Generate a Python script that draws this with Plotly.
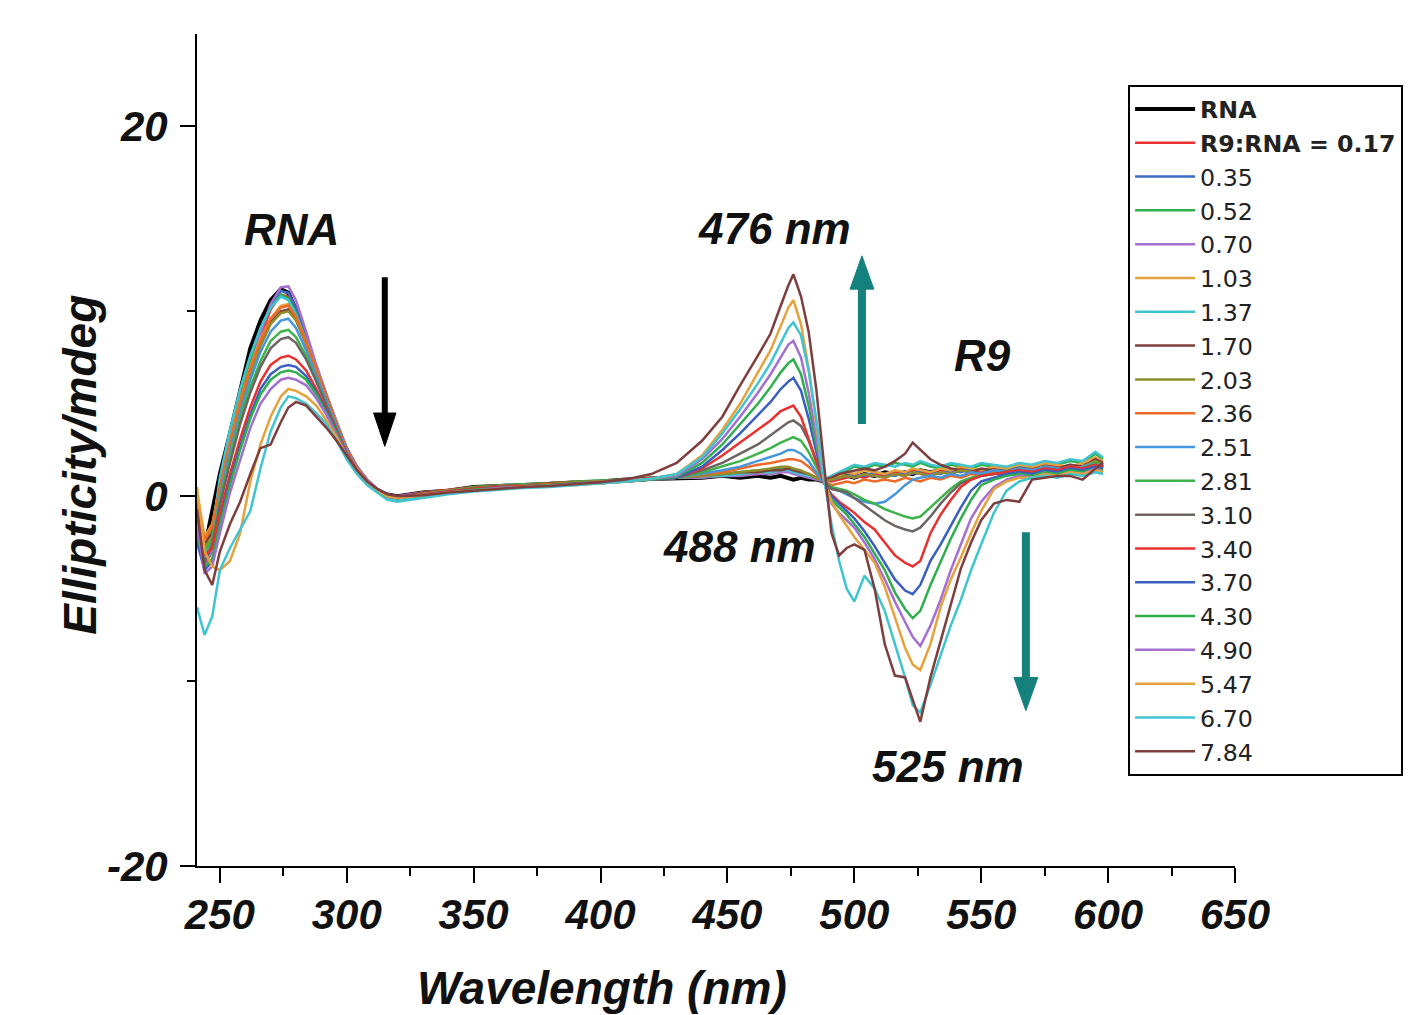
import plotly.graph_objects as go

FONT = "Arial, Liberation Sans, sans-serif"

# ---------------- data ----------------
wavelength = [241, 244, 247, 250, 254, 258, 262, 266, 270, 274, 277, 280, 284, 288, 292, 296, 300, 304, 308, 312, 316, 320,
              330, 340, 350, 360, 370, 380, 390, 400, 410, 420, 430,
              440, 448, 455, 462, 467, 471, 474, 476, 479, 482, 485, 488, 491, 494, 497, 500, 504, 508, 512, 516,
              520, 523, 526, 530, 534, 538, 542, 546, 550, 555, 560, 565, 570, 575, 580, 585, 590, 595, 598]

series_names = ["<b>RNA</b>", "<b>R9:RNA = 0.17</b>", "0.35", "0.52", "0.70", "1.03", "1.37", "1.70", "2.03", "2.36",
                "2.51", "2.81", "3.10", "3.40", "3.70", "4.30", "4.90", "5.47", "6.70", "7.84"]

series_colors = ["#000000", "#E8302E", "#3B6BC4", "#2DAF4C", "#A36FD0", "#E5A23C", "#40C4D0", "#7E3E3E", "#8F8F2A",
                 "#EE6A26", "#4596DD", "#3DB34A", "#6E6464", "#E8302E", "#3A5FC0", "#2DAF4C", "#A36FD0", "#E5A23C",
                 "#40C4D0", "#7E3E3E"]

rna = [-1.5, -2.8, -0.8, 1.2, 3.4, 5.8, 8.0, 9.5, 10.6, 11.2, 11.0, 10.1, 8.5, 6.8, 5.3, 3.8, 2.5, 1.5, 0.8, 0.3, 0.1, 0.0,
       0.2, 0.3, 0.5, 0.55, 0.6, 0.7, 0.75, 0.8, 0.9, 0.95, 1.0,
       1.0, 1.1, 1.0, 1.1, 1.0, 1.1, 1.0, 0.9, 1.0, 0.9, 0.9, 0.8, 0.9, 1.0, 1.1, 1.0, 1.2, 1.1, 1.3, 1.2,
       1.3, 1.2, 1.4, 1.3, 1.4, 1.3, 1.5, 1.4, 1.2, 1.3, 1.2, 1.3, 1.4, 1.5, 1.3, 1.5, 1.4, 1.6, 1.5]
r017 = [-0.5, -3.5, -2.8, 0.0, 2.5, 4.8, 6.9, 8.6, 10.1, 10.9, 10.8, 10.0, 8.5, 6.9, 5.4, 3.9, 2.6, 1.6, 0.9, 0.4, 0.1, 0.0,
        0.2, 0.35, 0.5, 0.6, 0.6, 0.7, 0.8, 0.8, 0.9, 1.0, 1.0,
        1.1, 1.1, 1.2, 1.2, 1.3, 1.3, 1.4, 1.3, 1.2, 1.1, 1.0, 0.9, 0.8, 0.9, 1.0, 1.1, 1.0, 1.2, 1.1, 1.3,
        1.2, 1.4, 1.3, 1.2, 1.4, 1.3, 1.5, 1.4, 1.3, 1.5, 1.4, 1.6, 1.5, 1.7, 1.6, 1.5, 1.8, 1.7, 1.6]
r035 = [-1.2, -3.0, -2.2, 0.5, 3.0, 5.2, 7.2, 8.9, 10.3, 11.1, 11.0, 10.2, 8.6, 7.0, 5.5, 4.0, 2.6, 1.6, 0.9, 0.4, 0.1, -0.1,
        0.1, 0.3, 0.45, 0.55, 0.6, 0.65, 0.75, 0.8, 0.85, 0.95, 1.05,
        1.1, 1.2, 1.2, 1.3, 1.3, 1.4, 1.4, 1.3, 1.2, 1.1, 1.0, 0.8, 0.9, 1.0, 1.1, 1.2, 1.1, 1.3, 1.2, 1.1,
        1.3, 1.2, 1.4, 1.3, 1.2, 1.4, 1.3, 1.5, 1.4, 1.3, 1.5, 1.6, 1.4, 1.6, 1.5, 1.7, 1.6, 1.9, 1.7]
r052 = [-0.8, -2.6, -1.8, 0.8, 3.4, 5.6, 7.4, 9.0, 10.2, 10.9, 10.7, 9.9, 8.4, 6.8, 5.3, 3.9, 2.5, 1.5, 0.8, 0.3, 0.0, -0.1,
        0.2, 0.3, 0.5, 0.6, 0.65, 0.7, 0.8, 0.85, 0.9, 1.0, 1.1,
        1.2, 1.2, 1.3, 1.4, 1.4, 1.5, 1.5, 1.4, 1.3, 1.2, 1.0, 0.9, 1.0, 1.2, 1.4, 1.6, 1.5, 1.7, 1.6, 1.8,
        1.7, 1.6, 1.8, 1.6, 1.5, 1.7, 1.6, 1.5, 1.7, 1.6, 1.5, 1.7, 1.6, 1.8, 1.7, 1.9, 1.8, 2.3, 2.0]
r070 = [-1.5, -3.8, -3.0, -0.5, 2.2, 4.6, 6.8, 8.8, 10.4, 11.3, 11.35, 10.6, 8.9, 7.1, 5.5, 4.0, 2.6, 1.6, 0.9, 0.4, 0.1, 0.0,
        0.2, 0.3, 0.4, 0.55, 0.6, 0.65, 0.7, 0.8, 0.85, 0.95, 1.0,
        1.0, 1.1, 1.1, 1.2, 1.2, 1.3, 1.3, 1.2, 1.1, 1.0, 0.9, 0.8, 0.9, 1.0, 1.1, 1.0, 1.2, 1.1, 1.0, 1.2,
        1.1, 1.3, 1.2, 1.1, 1.3, 1.2, 1.4, 1.3, 1.2, 1.4, 1.3, 1.5, 1.4, 1.6, 1.5, 1.4, 1.6, 1.8, 1.6]
r103 = [0.3, -2.2, -1.5, 0.6, 3.0, 5.2, 7.0, 8.5, 9.6, 10.3, 10.4, 9.8, 8.4, 6.9, 5.4, 3.9, 2.5, 1.5, 0.8, 0.3, 0.0, -0.1,
        0.15, 0.3, 0.45, 0.55, 0.6, 0.7, 0.75, 0.8, 0.9, 0.95, 1.05,
        1.1, 1.2, 1.2, 1.3, 1.3, 1.4, 1.5, 1.4, 1.3, 1.2, 1.0, 0.9, 1.0, 1.1, 1.3, 1.2, 1.4, 1.3, 1.2, 1.4,
        1.3, 1.5, 1.4, 1.3, 1.5, 1.4, 1.6, 1.5, 1.4, 1.6, 1.5, 1.7, 1.6, 1.8, 1.7, 1.6, 1.8, 2.1, 1.9]
r137 = [-2.0, -3.2, -2.0, 1.0, 3.6, 5.8, 7.6, 9.1, 10.2, 10.8, 10.6, 9.8, 8.3, 6.8, 5.3, 3.8, 2.5, 1.5, 0.8, 0.3, -0.1, -0.2,
        0.0, 0.2, 0.4, 0.5, 0.6, 0.65, 0.7, 0.8, 0.85, 0.95, 1.0,
        1.1, 1.1, 1.2, 1.3, 1.3, 1.4, 1.4, 1.3, 1.2, 1.1, 1.0, 0.9, 1.1, 1.3, 1.5, 1.7, 1.6, 1.8, 1.7, 1.6,
        1.8, 1.7, 1.9, 1.7, 1.6, 1.8, 1.7, 1.6, 1.8, 1.7, 1.6, 1.8, 1.7, 1.9, 1.8, 2.0, 1.9, 2.4, 2.1]
r170 = [-0.5, -2.5, -2.0, 0.4, 2.8, 5.0, 6.8, 8.3, 9.4, 10.0, 10.1, 9.6, 8.3, 6.8, 5.3, 3.9, 2.5, 1.5, 0.8, 0.3, 0.0, -0.1,
        0.2, 0.3, 0.45, 0.55, 0.6, 0.7, 0.75, 0.8, 0.9, 1.0, 1.05,
        1.1, 1.2, 1.3, 1.3, 1.4, 1.4, 1.5, 1.4, 1.3, 1.2, 1.0, 0.9, 1.0, 1.2, 1.3, 1.4, 1.5, 1.4, 1.6, 1.9,
        2.3, 2.9, 2.5, 2.0, 1.7, 1.5, 1.4, 1.3, 1.5, 1.4, 1.3, 1.5, 1.4, 1.6, 1.5, 1.7, 1.6, 2.0, 1.8]
r203 = [-1.0, -2.8, -2.2, 0.2, 2.6, 4.8, 6.6, 8.1, 9.3, 9.9, 10.0, 9.5, 8.2, 6.7, 5.2, 3.8, 2.5, 1.5, 0.8, 0.3, 0.0, -0.1,
        0.1, 0.3, 0.45, 0.5, 0.6, 0.65, 0.75, 0.8, 0.85, 0.95, 1.0,
        1.1, 1.2, 1.3, 1.4, 1.5, 1.6, 1.6, 1.5, 1.4, 1.2, 1.0, 0.8, 0.9, 1.0, 1.1, 1.0, 1.2, 1.1, 1.0, 1.2,
        1.1, 1.3, 1.2, 1.1, 1.3, 1.2, 1.4, 1.3, 1.2, 1.4, 1.3, 1.5, 1.4, 1.6, 1.5, 1.4, 1.6, 1.9, 1.7]
r236 = [-0.3, -2.4, -1.6, 0.5, 2.9, 5.1, 6.9, 8.4, 9.6, 10.2, 10.3, 9.7, 8.3, 6.8, 5.3, 3.9, 2.5, 1.5, 0.8, 0.3, 0.0, -0.1,
        0.15, 0.3, 0.4, 0.5, 0.55, 0.65, 0.7, 0.75, 0.85, 0.95, 1.0,
        1.2, 1.3, 1.5, 1.7, 1.8, 1.9, 2.0, 2.0, 1.9, 1.6, 1.2, 0.8, 0.6, 0.7, 0.8, 0.7, 0.9, 0.8, 0.9, 0.8,
        1.0, 0.9, 0.8, 1.0, 0.9, 1.1, 1.0, 1.2, 1.1, 1.3, 1.2, 1.4, 1.3, 1.5, 1.4, 1.6, 1.5, 1.8, 1.6]
r251 = [-1.8, -3.4, -2.5, 0.0, 2.4, 4.5, 6.3, 7.8, 8.9, 9.5, 9.6, 9.1, 7.9, 6.5, 5.1, 3.7, 2.4, 1.4, 0.7, 0.3, 0.0, -0.1,
        0.1, 0.25, 0.4, 0.5, 0.55, 0.6, 0.7, 0.75, 0.85, 0.9, 1.0,
        1.2, 1.4, 1.6, 1.9, 2.1, 2.3, 2.5, 2.5, 2.3, 1.9, 1.3, 0.7, 0.4, 0.3, 0.1, -0.1, -0.3, -0.4, -0.3, 0.1,
        0.6, 0.9, 1.0, 1.1, 1.0, 1.2, 1.1, 1.3, 1.2, 1.4, 1.3, 1.5, 1.4, 1.6, 1.5, 1.4, 1.6, 1.8, 1.6]
r281 = [-1.2, -3.0, -2.4, -0.2, 2.1, 4.2, 5.9, 7.3, 8.4, 8.9, 9.0, 8.6, 7.6, 6.3, 5.0, 3.6, 2.3, 1.4, 0.7, 0.3, 0.0, -0.1,
        0.1, 0.3, 0.4, 0.5, 0.55, 0.6, 0.7, 0.75, 0.8, 0.9, 1.0,
        1.3, 1.6, 1.9, 2.3, 2.6, 2.9, 3.1, 3.2, 3.0, 2.4, 1.6, 0.8, 0.5, 0.4, 0.3, 0.1, -0.2, -0.4, -0.7, -0.9,
        -1.1, -1.2, -1.1, -0.6, -0.1, 0.4, 0.8, 1.0, 1.1, 1.2, 1.3, 1.4, 1.3, 1.5, 1.4, 1.6, 1.5, 1.8, 1.6]
r310 = [-2.2, -3.6, -2.6, -0.5, 1.8, 3.9, 5.6, 7.0, 8.0, 8.5, 8.6, 8.3, 7.4, 6.2, 4.9, 3.6, 2.3, 1.4, 0.7, 0.3, 0.0, -0.1,
        0.1, 0.25, 0.4, 0.5, 0.55, 0.6, 0.7, 0.75, 0.8, 0.9, 1.0,
        1.4, 1.8, 2.3, 2.8, 3.3, 3.7, 4.0, 4.1, 3.8, 3.0, 1.9, 0.8, 0.4, 0.3, 0.2, -0.1, -0.5, -0.9, -1.3, -1.6,
        -1.8, -1.9, -1.7, -1.1, -0.4, 0.2, 0.7, 0.9, 1.1, 1.2, 1.3, 1.4, 1.3, 1.5, 1.4, 1.6, 1.5, 1.7, 1.6]
r340 = [-1.0, -3.2, -2.8, -1.0, 1.2, 3.1, 4.8, 6.2, 7.1, 7.5, 7.6, 7.4, 6.8, 5.8, 4.7, 3.5, 2.3, 1.4, 0.7, 0.3, 0.0, -0.1,
        0.1, 0.25, 0.4, 0.5, 0.55, 0.6, 0.65, 0.75, 0.8, 0.9, 1.0,
        1.5, 2.2, 2.9, 3.6, 4.1, 4.6, 4.8, 4.9, 4.3, 3.1, 1.9, 0.7, 0.1, -0.3, -0.6, -0.9, -1.4, -1.8, -2.5, -3.2,
        -3.6, -3.8, -3.5, -2.0, -1.0, -0.2, 0.5, 0.9, 1.1, 1.2, 1.3, 1.4, 1.3, 1.5, 1.4, 1.6, 1.5, 1.7, 1.6]
r370 = [-2.5, -4.0, -3.5, -1.5, 0.8, 2.7, 4.4, 5.8, 6.6, 7.0, 7.1, 7.0, 6.5, 5.6, 4.6, 3.4, 2.2, 1.3, 0.7, 0.3, 0.0, -0.1,
        0.05, 0.2, 0.35, 0.45, 0.5, 0.6, 0.65, 0.7, 0.8, 0.9, 1.0,
        1.6, 2.5, 3.4, 4.4, 5.1, 5.8, 6.2, 6.4, 5.7, 4.2, 2.4, 0.8, 0.0, -0.4, -0.8, -1.2, -1.9, -2.7, -3.6, -4.5,
        -5.1, -5.3, -4.8, -3.5, -2.6, -1.6, -0.6, 0.3, 0.8, 1.0, 1.2, 1.3, 1.2, 1.4, 1.3, 1.5, 1.4, 1.6, 1.5]
r430 = [-2.0, -3.8, -3.4, -1.6, 0.6, 2.5, 4.2, 5.5, 6.3, 6.7, 6.8, 6.7, 6.3, 5.5, 4.5, 3.4, 2.2, 1.3, 0.7, 0.3, 0.0, -0.1,
        0.05, 0.2, 0.35, 0.45, 0.5, 0.6, 0.65, 0.7, 0.8, 0.9, 1.05,
        1.8, 2.8, 3.9, 5.0, 5.9, 6.7, 7.2, 7.4, 6.6, 4.9, 2.8, 0.8, -0.2, -0.6, -1.0, -1.5, -2.2, -3.1, -4.0, -5.2,
        -6.1, -6.6, -6.2, -4.8, -3.5, -2.3, -1.2, -0.2, 0.6, 0.9, 1.1, 1.2, 1.1, 1.3, 1.2, 1.4, 1.3, 1.5, 1.4]
r490 = [-1.5, -4.2, -3.8, -2.0, 0.2, 2.0, 3.7, 5.0, 5.8, 6.3, 6.4, 6.3, 6.0, 5.3, 4.4, 3.3, 2.2, 1.3, 0.7, 0.3, 0.0, -0.1,
        0.05, 0.2, 0.3, 0.45, 0.5, 0.55, 0.65, 0.7, 0.8, 0.95, 1.1,
        2.0, 3.1, 4.3, 5.6, 6.6, 7.5, 8.2, 8.4, 7.5, 5.6, 3.2, 0.8, -0.4, -0.9, -1.3, -1.7, -2.5, -3.4, -4.5, -5.7,
        -6.8, -7.6, -8.1, -7.0, -5.6, -4.0, -2.6, -1.2, -0.3, 0.5, 0.9, 1.1, 1.0, 1.2, 1.1, 1.3, 1.2, 1.5, 1.3]
r547 = [0.5, -3.0, -3.8, -4.0, -3.5, -2.0, 0.8, 2.8, 4.3, 5.4, 5.8, 5.7, 5.4, 4.9, 4.1, 3.2, 2.1, 1.3, 0.7, 0.3, 0.0, -0.1,
        0.05, 0.2, 0.3, 0.4, 0.5, 0.55, 0.6, 0.7, 0.8, 0.95, 1.2,
        2.2, 3.6, 5.0, 6.7, 7.9, 9.2, 10.2, 10.6, 9.3, 6.9, 4.0, 0.9, -0.3, -1.0, -1.6, -2.2, -2.9, -3.6, -4.9, -6.6,
        -8.2, -9.1, -9.4, -8.0, -6.0, -4.5, -3.3, -2.0, -0.8, 0.4, 0.8, 1.0, 1.0, 1.2, 1.1, 1.3, 1.2, 1.4, 1.3]
r670 = [-6.0, -7.5, -6.5, -4.0, -2.8, -1.8, -0.8, 1.5, 3.5, 4.8, 5.4, 5.3, 5.0, 4.5, 3.9, 3.0, 2.0, 1.2, 0.6, 0.2, -0.2, -0.3,
        -0.1, 0.1, 0.25, 0.35, 0.45, 0.5, 0.6, 0.7, 0.8, 0.95, 1.2,
        2.1, 3.4, 4.7, 6.1, 7.2, 8.3, 9.1, 9.4, 8.7, 6.8, 4.2, 1.0, -1.5, -3.5, -5.0, -5.7, -4.3, -5.0, -6.2, -8.0,
        -9.8, -11.3, -11.7, -10.2, -8.6, -7.0, -5.6, -4.0, -2.6, -0.9, 0.3, 0.8, 1.0, 1.1, 1.0, 1.2, 1.1, 1.3, 1.2]
r784 = [-0.7, -4.0, -4.8, -3.0, -1.5, -0.3, 1.2, 2.6, 2.8, 4.0, 4.8, 5.1, 4.9, 4.3, 3.7, 3.0, 2.2, 1.4, 0.8, 0.4, 0.1, 0.0,
        0.05, 0.2, 0.3, 0.4, 0.5, 0.55, 0.65, 0.75, 0.9, 1.2, 1.8,
        3.0, 4.3, 6.0, 7.6, 8.8, 10.3, 11.4, 12.0, 10.8, 8.9, 5.8, 1.8, -2.0, -3.2, -2.8, -2.6, -2.9, -5.0, -8.0, -9.7,
        -9.8, -11.0, -12.2, -9.8, -7.8, -5.8, -3.9, -2.5, -1.3, -0.4, -0.2, -0.3, 0.9, 1.0, 1.1, 1.1, 0.9, 1.5, 1.8]

series_values = [rna, r017, r035, r052, r070, r103, r137, r170, r203, r236,
                 r251, r281, r310, r340, r370, r430, r490, r547, r670, r784]

x_ticks = [250, 300, 350, 400, 450, 500, 550, 600, 650]
y_ticks = [-20, 0, 20]

# ---------------- figure ----------------
fig = go.Figure()
for name, color, vals in zip(series_names, series_colors, series_values):
    fig.add_trace(go.Scatter(
        x=wavelength, y=vals, mode="lines", name=name,
        line=dict(color=color, width=4 if color == "#000000" else 2.5),
    ))

TEAL = "#15817C"
shapes = [
    # black arrow (RNA band decreasing)
    dict(type="line", xref="x", yref="y", x0=315, x1=315, y0=11.85, y1=4.3,
         line=dict(color="black", width=6)),
    dict(type="path", xref="x", yref="y", path="M 310.6 4.5 L 319.4 4.5 L 315 2.7 Z",
         fillcolor="black", line=dict(color="black", width=1)),
    # teal up arrow
    dict(type="line", xref="x", yref="y", x0=503, x1=503, y0=3.9, y1=11.5,
         line=dict(color=TEAL, width=8)),
    dict(type="path", xref="x", yref="y", path="M 498.3 11.2 L 507.7 11.2 L 503 13.0 Z",
         fillcolor=TEAL, line=dict(color=TEAL, width=1)),
    # teal down arrow
    dict(type="line", xref="x", yref="y", x0=567.6, x1=567.6, y0=-1.95, y1=-10.1,
         line=dict(color=TEAL, width=8)),
    dict(type="path", xref="x", yref="y", path="M 562.9 -9.8 L 572.3 -9.8 L 567.6 -11.6 Z",
         fillcolor=TEAL, line=dict(color=TEAL, width=1)),
]

lab_font = dict(family=FONT, size=44, color="#111", weight="bold", style="italic")
annotations = [
    dict(x=278.4, y=14.4, text="RNA"),
    dict(x=468.7, y=14.5, text="476 nm"),
    dict(x=550.7, y=7.6, text="R9"),
    dict(x=454.9, y=-2.7, text="488 nm"),
    dict(x=537, y=-14.6, text="525 nm"),
]
for a in annotations:
    a.update(xref="x", yref="y", showarrow=False, font=lab_font, xanchor="center", yanchor="middle")

annotations.append(dict(xref="paper", yref="paper", x=0.39, y=-0.147, text="Wavelength (nm)",
                        showarrow=False, xanchor="center", yanchor="middle",
                        font=dict(family=FONT, size=46, color="#111", weight="bold", style="italic")))
annotations.append(dict(xref="paper", yref="paper", x=-0.113, y=0.482, text="Ellipticity/mdeg",
                        textangle=-90, showarrow=False, xanchor="center", yanchor="middle",
                        font=dict(family=FONT, size=46, color="#111", weight="bold", style="italic")))

fig.update_layout(
    width=1412, height=1007,
    margin=dict(l=189, r=185, t=26, b=149),
    paper_bgcolor="white", plot_bgcolor="white",
    showlegend=True,
    legend=dict(x=0.897, y=0.9387, xanchor="left", yanchor="top",
                bordercolor="black", borderwidth=2, bgcolor="white",
                font=dict(family="DejaVu Sans, sans-serif", size=23.7, color="#222"),
                itemwidth=60, traceorder="normal", tracegroupgap=0),
    shapes=shapes,
    annotations=annotations,
    xaxis=dict(range=[241, 650], showgrid=False, zeroline=False, showline=True, linecolor="black", linewidth=2,
               automargin=False,
               ticks="outside", ticklen=15, tickwidth=2, tickcolor="black",
               tickvals=x_ticks, ticktext=[str(v) for v in x_ticks],
               tickfont=dict(family=FONT, size=42, color="#111", weight="bold", style="italic"),
               ticklabelstandoff=-4,
               minor=dict(ticks="outside", ticklen=8, tickwidth=2, tickcolor="black", dtick=25, tick0=250)),
    yaxis=dict(range=[-20, 25], showgrid=False, zeroline=False, showline=True, linecolor="black", linewidth=2,
               automargin=False,
               ticks="outside", ticklen=15, tickwidth=2, tickcolor="black",
               tickvals=y_ticks, ticktext=[str(v) for v in y_ticks],
               tickfont=dict(family=FONT, size=42, color="#111", weight="bold", style="italic"),
               ticklabelstandoff=4,
               minor=dict(ticks="outside", ticklen=8, tickwidth=2, tickcolor="black", dtick=10, tick0=0)),
)

fig.write_html("out.html")
